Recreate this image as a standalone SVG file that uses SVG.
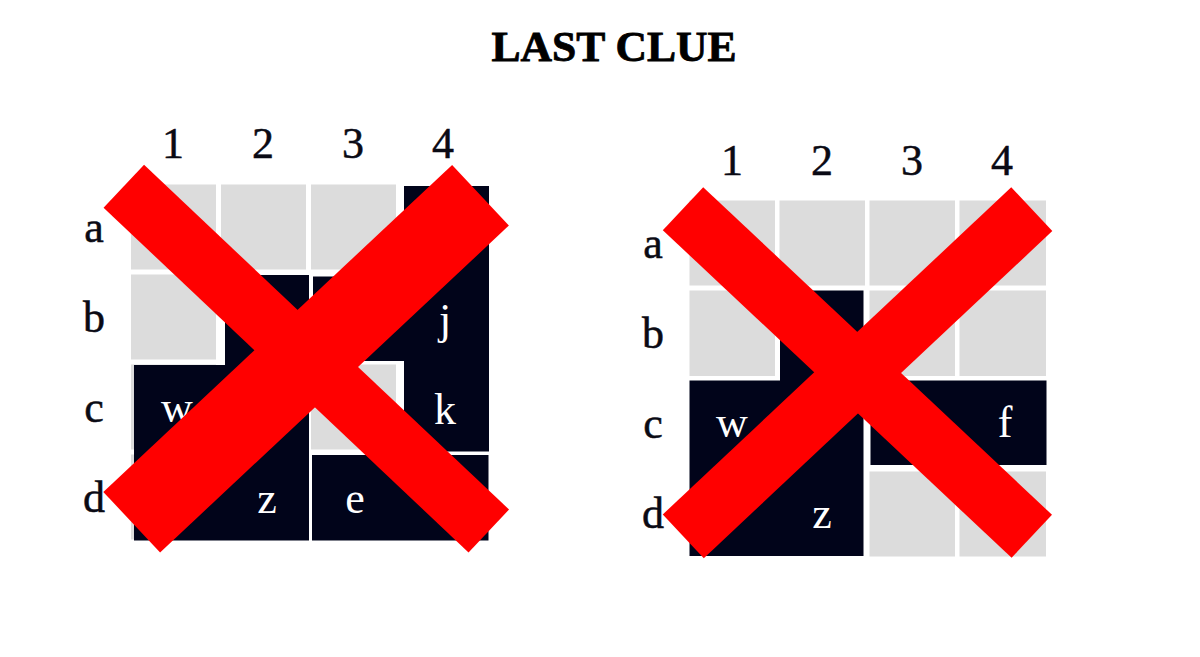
<svg xmlns="http://www.w3.org/2000/svg" width="1200" height="657" viewBox="0 0 1200 657">
<style>
.bg{fill:#ffffff}
.light{fill:#dcdcdc}
.dark{fill:#01041a}
.lbl{font-family:"Liberation Serif","Times New Roman",serif;font-size:44px;fill:#0a0a14;stroke:#0a0a14;stroke-width:0.5;text-anchor:middle}
.in{font-family:"Liberation Serif","Times New Roman",serif;font-size:44px;fill:#ffffff;text-anchor:middle}
.title{font-family:"Liberation Serif","Times New Roman",serif;font-size:43px;font-weight:bold;fill:#000000;stroke:#000000;stroke-width:0.8;text-anchor:middle}
.x{stroke:#ff0000;stroke-linecap:butt;fill:none}
</style>
<rect class="bg" x="0" y="0" width="1200" height="657"/>
<g id="title"><text class="title" x="614" y="61" textLength="245" lengthAdjust="spacingAndGlyphs">LAST CLUE</text></g>

<g id="left-grid">
  <g id="left-light">
    <rect class="light" x="131" y="184.5" width="85" height="85"/>
    <rect class="light" x="221" y="184.5" width="85" height="85"/>
    <rect class="light" x="311" y="184.5" width="85" height="85"/>
    <rect class="light" x="131" y="274.5" width="85" height="85"/>
    <rect class="light" x="131" y="364.5" width="85" height="85"/>
    <rect class="light" x="131" y="454.5" width="85" height="85"/>
    <rect class="light" x="311" y="364.5" width="85" height="85"/>
  </g>
  <g id="left-piece-j"><polygon class="dark" points="404,186 489,186 489,361 313,361 313,276.5 404,276.5"/><text class="in" x="445" y="334">j</text></g>
  <g id="left-piece-k"><rect class="dark" x="404" y="361" width="85" height="90.5"/><text class="in" x="445" y="424">k</text></g>
  <g id="left-piece-wz"><polygon class="dark" points="225,275 309,275 309,540.5 134,540.5 134,365 225,365"/><text class="in" x="177" y="422">w</text><text class="in" x="267" y="513">z</text></g>
  <g id="left-piece-e"><rect class="dark" x="312" y="455" width="176.5" height="85.5"/><text class="in" x="355" y="513">e</text></g>
  <g id="left-cols"><text class="lbl" x="173" y="158">1</text><text class="lbl" x="263" y="158">2</text><text class="lbl" x="353" y="158">3</text><text class="lbl" x="443" y="158">4</text></g>
  <g id="left-rows"><text class="lbl" x="94" y="242">a</text><text class="lbl" x="94" y="332">b</text><text class="lbl" x="94" y="422">c</text><text class="lbl" x="94" y="512">d</text></g>
</g>

<g id="right-grid">
  <g id="right-light">
    <rect class="light" x="689.5" y="200.5" width="85.5" height="85"/>
    <rect class="light" x="779.5" y="200.5" width="85.5" height="85"/>
    <rect class="light" x="869.5" y="200.5" width="85.5" height="85"/>
    <rect class="light" x="959.5" y="200.5" width="86.5" height="85"/>
    <rect class="light" x="689.5" y="290.5" width="85.5" height="85.5"/>
    <rect class="light" x="869.5" y="290.5" width="85.5" height="85.5"/>
    <rect class="light" x="959.5" y="290.5" width="86.5" height="85.5"/>
    <rect class="light" x="869.5" y="471.5" width="85.5" height="85"/>
    <rect class="light" x="959.5" y="471.5" width="86.5" height="85"/>
  </g>
  <g id="right-piece-wz"><polygon class="dark" points="780,290.5 863.5,290.5 863.5,556 689.5,556 689.5,380.5 780,380.5"/><text class="in" x="732" y="437">w</text><text class="in" x="822" y="528">z</text></g>
  <g id="right-piece-f"><rect class="dark" x="870.5" y="380.5" width="176" height="84.5"/><text class="in" x="1005" y="437">f</text></g>
  <g id="right-cols"><text class="lbl" x="732" y="175">1</text><text class="lbl" x="822" y="175">2</text><text class="lbl" x="912" y="175">3</text><text class="lbl" x="1002" y="175">4</text></g>
  <g id="right-rows"><text class="lbl" x="653" y="258">a</text><text class="lbl" x="653" y="348">b</text><text class="lbl" x="653" y="438">c</text><text class="lbl" x="653" y="528">d</text></g>
</g>

<g id="connectors">
  <line class="x" x1="123.8" y1="186.3" x2="488.8" y2="531" stroke-width="59"/>
  <line class="x" x1="480.5" y1="195.3" x2="131.7" y2="522.2" stroke-width="83"/>
  <line class="x" x1="683" y1="208.7" x2="1031.8" y2="536.3" stroke-width="59"/>
  <line class="x" x1="1031.8" y1="209.2" x2="683.3" y2="536.3" stroke-width="60"/>
</g>
</svg>
